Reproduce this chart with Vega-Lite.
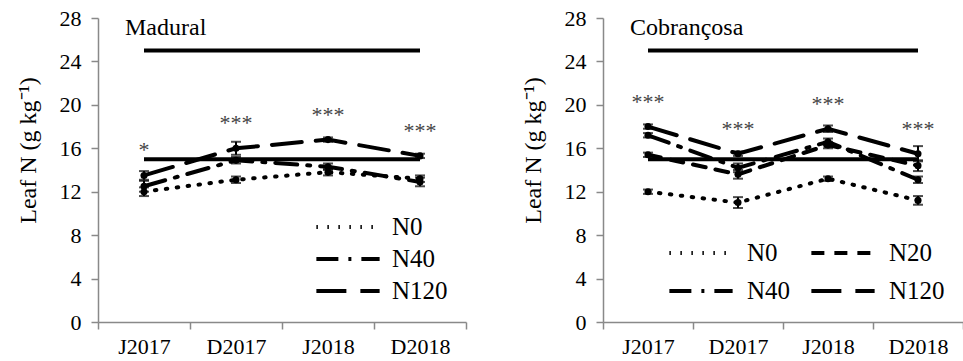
{
  "$schema": "https://vega.github.io/schema/vega-lite/v6.json",
  "padding": {"left": 16, "top": 7, "right": 0, "bottom": 0},
  "spacing": 54,
  "datasets": {
    "ref": [
      {"date": "J2017", "level": 15, "line": "low"},
      {"date": "D2018", "level": 15, "line": "low"},
      {"date": "J2017", "level": 25, "line": "high"},
      {"date": "D2018", "level": 25, "line": "high"}
    ],
    "mad": [
      {"date": "J2017", "series": "N0", "mean": 12.0, "se": 0.4, "sig": "*"},
      {"date": "D2017", "series": "N0", "mean": 13.1, "se": 0.3, "sig": "***"},
      {"date": "J2018", "series": "N0", "mean": 13.8, "se": 0.3, "sig": "***"},
      {"date": "D2018", "series": "N0", "mean": 13.2, "se": 0.3, "sig": "***"},
      {"date": "J2017", "series": "N40", "mean": 12.5, "se": 0.5, "sig": "*"},
      {"date": "D2017", "series": "N40", "mean": 14.9, "se": 0.3, "sig": "***"},
      {"date": "J2018", "series": "N40", "mean": 14.3, "se": 0.3, "sig": "***"},
      {"date": "D2018", "series": "N40", "mean": 12.9, "se": 0.4, "sig": "***"},
      {"date": "J2017", "series": "N120", "mean": 13.5, "se": 0.4, "sig": "*"},
      {"date": "D2017", "series": "N120", "mean": 16.0, "se": 0.6, "sig": "***"},
      {"date": "J2018", "series": "N120", "mean": 16.8, "se": 0.2, "sig": "***"},
      {"date": "D2018", "series": "N120", "mean": 15.3, "se": 0.2, "sig": "***"}
    ],
    "cob": [
      {"date": "J2017", "series": "N0", "mean": 12.0, "se": 0.2, "sig": "***"},
      {"date": "D2017", "series": "N0", "mean": 11.0, "se": 0.5, "sig": "***"},
      {"date": "J2018", "series": "N0", "mean": 13.2, "se": 0.2, "sig": "***"},
      {"date": "D2018", "series": "N0", "mean": 11.2, "se": 0.4, "sig": "***"},
      {"date": "J2017", "series": "N20", "mean": 15.4, "se": 0.2, "sig": "***"},
      {"date": "D2017", "series": "N20", "mean": 13.6, "se": 0.4, "sig": "***"},
      {"date": "J2018", "series": "N20", "mean": 16.3, "se": 0.3, "sig": "***"},
      {"date": "D2018", "series": "N20", "mean": 14.4, "se": 0.5, "sig": "***"},
      {"date": "J2017", "series": "N40", "mean": 17.2, "se": 0.2, "sig": "***"},
      {"date": "D2017", "series": "N40", "mean": 14.2, "se": 0.4, "sig": "***"},
      {"date": "J2018", "series": "N40", "mean": 16.6, "se": 0.3, "sig": "***"},
      {"date": "D2018", "series": "N40", "mean": 13.1, "se": 0.3, "sig": "***"},
      {"date": "J2017", "series": "N120", "mean": 18.0, "se": 0.2, "sig": "***"},
      {"date": "D2017", "series": "N120", "mean": 15.5, "se": 0.2, "sig": "***"},
      {"date": "J2018", "series": "N120", "mean": 17.8, "se": 0.3, "sig": "***"},
      {"date": "D2018", "series": "N120", "mean": 15.5, "se": 0.7, "sig": "***"}
    ]
  },
  "hconcat": [
    {
      "width": 368,
      "height": 304,
      "title": {"text": "Madural", "anchor": "start", "frame": "group", "dx": 27, "dy": 52, "offset": 0, "baseline": "alphabetic"},
      "data": {"name": "mad"},
      "encoding": {
        "x": {"field": "date", "type": "nominal", "scale": {"domain": ["J2017", "D2017", "J2018", "D2018"], "paddingInner": 0, "paddingOuter": 0},
              "axis": {"title": null, "labelAngle": 0, "tickBand": "extent", "labelPadding": 7}},
        "y": {"field": "mean", "type": "quantitative", "scale": {"domain": [0, 28], "nice": false},
              "axis": {"values": [0, 4, 8, 12, 16, 20, 24, 28], "title": "Leaf N (g kg⁻¹)", "labelPadding": 10, "titlePadding": 19, "titleY": 132, "labelFlush": false, "labelOverlap": false}}
      },
      "layer": [
        {"data": {"name": "ref"}, "mark": {"type": "line", "color": "black", "strokeWidth": 4},
         "encoding": {"y": {"field": "level", "type": "quantitative"}, "detail": {"field": "line"}, "order": {"value": null}}},
        {"mark": {"type": "line", "color": "black", "strokeWidth": 4, "strokeCap": "round"},
         "encoding": {
           "strokeDash": {"field": "series", "type": "nominal",
             "scale": {"domain": ["N0", "N40", "N120"], "range": [[1.5, 9.5], [22, 10, 3, 10], [30, 14]]},
             "legend": {"orient": "bottom-right", "offset": 18, "rowPadding": 1, "labelOffset": 26}},
           "order": {"value": null}}},
        {"mark": {"type": "errorbar", "ticks": {"size": 10, "thickness": 2}, "thickness": 2, "color": "black"},
         "encoding": {"yError": {"field": "se"}}},
        {"mark": {"type": "circle", "size": 50, "color": "black", "opacity": 1}},
        {"transform": [{"aggregate": [{"op": "max", "field": "mean", "as": "mean"}], "groupby": ["date", "sig"]}],
         "mark": {"type": "text", "fontSize": 22, "dy": -18, "baseline": "alphabetic", "color": "#444444", "fill": "#444444"},
         "encoding": {"text": {"field": "sig"}}}
      ]
    },
    {
      "width": 360,
      "height": 304,
      "title": {"text": "Cobrançosa", "anchor": "start", "frame": "group", "dx": 27, "dy": 52, "offset": 0, "baseline": "alphabetic"},
      "data": {"name": "cob"},
      "encoding": {
        "x": {"field": "date", "type": "nominal", "scale": {"domain": ["J2017", "D2017", "J2018", "D2018"], "paddingInner": 0, "paddingOuter": 0},
              "axis": {"title": null, "labelAngle": 0, "tickBand": "extent", "labelPadding": 7}},
        "y": {"field": "mean", "type": "quantitative", "scale": {"domain": [0, 28], "nice": false},
              "axis": {"values": [0, 4, 8, 12, 16, 20, 24, 28], "title": "Leaf N (g kg⁻¹)", "labelPadding": 10, "titlePadding": 19, "titleY": 132, "labelFlush": false, "labelOverlap": false}}
      },
      "layer": [
        {"data": {"name": "ref"}, "mark": {"type": "line", "color": "black", "strokeWidth": 4},
         "encoding": {"y": {"field": "level", "type": "quantitative"}, "detail": {"field": "line"}, "order": {"value": null}}},
        {"mark": {"type": "line", "color": "black", "strokeWidth": 4, "strokeCap": "round"},
         "encoding": {
           "strokeDash": {"field": "series", "type": "nominal",
             "scale": {"domain": ["N0", "N20", "N40", "N120"], "range": [[1.5, 9.5], [13, 10], [22, 10, 3, 10], [30, 14]]},
             "legend": {"orient": "bottom-right", "offset": 18, "columns": 2, "direction": "horizontal", "columnPadding": 12, "rowPadding": 7, "labelOffset": 28}},
           "order": {"value": null}}},
        {"mark": {"type": "errorbar", "ticks": {"size": 10, "thickness": 2}, "thickness": 2, "color": "black"},
         "encoding": {"yError": {"field": "se"}}},
        {"mark": {"type": "circle", "size": 50, "color": "black", "opacity": 1}},
        {"transform": [{"aggregate": [{"op": "max", "field": "mean", "as": "mean"}], "groupby": ["date", "sig"]}],
         "mark": {"type": "text", "fontSize": 22, "dy": -18, "baseline": "alphabetic", "color": "#444444", "fill": "#444444"},
         "encoding": {"text": {"field": "sig"}}}
      ]
    }
  ],
  "resolve": {"scale": {"strokeDash": "independent", "x": "independent", "y": "independent"}, "legend": {"strokeDash": "independent"}},
  "config": {
    "view": {"stroke": null},
    "font": "Times New Roman, Liberation Serif, serif",
    "title": {"font": "Times New Roman, Liberation Serif, serif", "fontSize": 24, "fontWeight": "normal", "color": "black"},
    "text": {"font": "Times New Roman, Liberation Serif, serif"},
    "legend": {"title": null, "symbolType": "M-2,0L2,0", "symbolSize": 1000, "symbolStrokeWidth": 4, "symbolStrokeColor": "black", "labelFontSize": 25, "labelFont": "Times New Roman, Liberation Serif, serif", "labelColor": "black"},
    "axis": {"domainColor": "#898989", "tickColor": "#898989", "domainWidth": 1.5, "tickWidth": 1.5, "tickSize": 7, "labelColor": "black", "labelFontSize": 22, "labelFont": "Times New Roman, Liberation Serif, serif", "titleFont": "Times New Roman, Liberation Serif, serif", "titleFontWeight": "normal", "titleColor": "black", "titleFontSize": 24, "grid": false}
  }
}
